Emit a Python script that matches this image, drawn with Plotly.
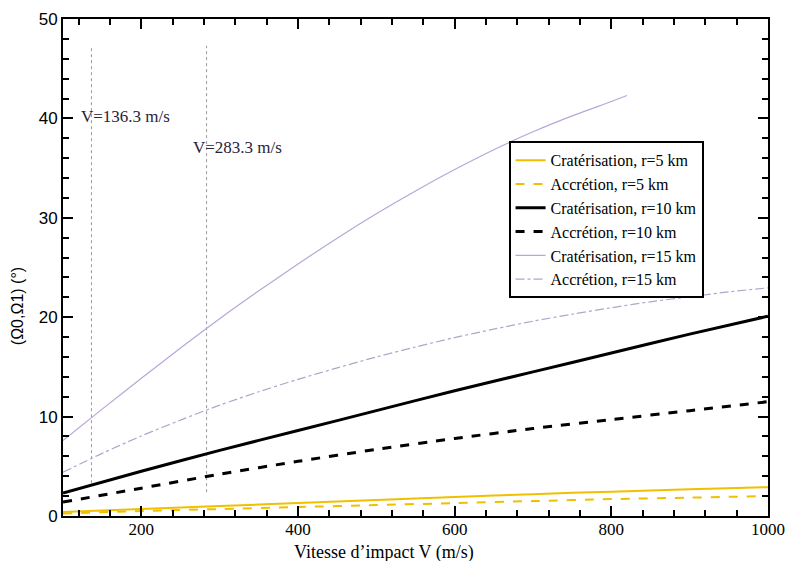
import plotly.graph_objects as go

# ---- data ----
x_full = [100, 200, 300, 400, 500, 600, 700, 800, 900, 1000]
crat_r5 = [0.4, 0.7, 1.0, 1.3, 1.6, 1.9, 2.2, 2.45, 2.7, 2.9]
acc_r5 = [0.25, 0.5, 0.7, 0.9, 1.1, 1.3, 1.5, 1.7, 1.85, 2.0]
crat_r10 = [2.3, 4.5, 6.6, 8.6, 10.6, 12.6, 14.5, 16.4, 18.3, 20.1]
acc_r10 = [1.4, 2.8, 4.2, 5.5, 6.7, 7.8, 8.8, 9.7, 10.6, 11.5]

x_r15c = [100, 150, 200, 250, 300, 350, 400, 450, 500, 550, 600, 650, 700, 750, 800, 820]
crat_r15 = [7.6, 10.75, 13.85, 16.9, 19.85, 22.65, 25.35, 27.95, 30.4, 32.7, 34.85, 36.85, 38.65, 40.25, 41.7, 42.3]

x_r15a = [100, 150, 200, 250, 300, 350, 400, 450, 500, 550, 600, 650, 700, 750, 800, 850, 900, 950, 1000]
acc_r15 = [4.4, 6.3, 8.05, 9.65, 11.15, 12.5, 13.75, 14.9, 16.0, 17.0, 17.95, 18.8, 19.6, 20.3, 20.95, 21.55, 22.05, 22.55, 22.95]

v_markers = [136.3, 283.3]
v_labels = ["V=136.3 m/s", "V=283.3 m/s"]
v_label_pos = [(121, 40.2), (264, 37.1)]
v_line_span = [(3.3, 47.2), (2.4, 47.3)]

x_ticks = [200, 400, 600, 800, 1000]
y_ticks = [0, 10, 20, 30, 40, 50]

x_title = "Vitesse d\u2019impact V (m/s)"
y_title = "(\u03a90,\u03a91) (\u00b0)"

YELLOW = "#f0c000"
LAV = "#b8a6da"
LAV2 = "#b0a6c8"

fig = go.Figure()

# vertical marker lines
for v, (y0, y1) in zip(v_markers, v_line_span):
    fig.add_trace(go.Scatter(x=[v, v], y=[y0, y1], mode="lines",
                             line=dict(color="#9a9a9a", width=1, dash="dot"),
                             showlegend=False, hoverinfo="skip"))

fig.add_trace(go.Scatter(x=x_full, y=crat_r5, mode="lines", name="Cratérisation, r=5 km",
                         line=dict(color=YELLOW, width=2, shape="spline", smoothing=0.8)))
fig.add_trace(go.Scatter(x=x_full, y=acc_r5, mode="lines", name="Accrétion, r=5 km",
                         line=dict(color=YELLOW, width=2, dash="dash", shape="spline", smoothing=0.8)))
fig.add_trace(go.Scatter(x=x_full, y=crat_r10, mode="lines", name="Cratérisation, r=10 km",
                         line=dict(color="black", width=3, shape="spline", smoothing=0.8)))
fig.add_trace(go.Scatter(x=x_full, y=acc_r10, mode="lines", name="Accrétion, r=10 km",
                         line=dict(color="black", width=3, dash="dash", shape="spline", smoothing=0.8)))
fig.add_trace(go.Scatter(x=x_r15c, y=crat_r15, mode="lines", name="Cratérisation, r=15 km",
                         line=dict(color=LAV, width=1.2, shape="spline", smoothing=0.8)))
fig.add_trace(go.Scatter(x=x_r15a, y=acc_r15, mode="lines", name="Accrétion, r=15 km",
                         line=dict(color=LAV2, width=1.2, dash="dashdot", shape="spline", smoothing=0.8)))

for txt, (lx, ly) in zip(v_labels, v_label_pos):
    fig.add_annotation(x=lx, y=ly, text=txt, showarrow=False, xanchor="left", yanchor="middle",
                       font=dict(family="Liberation Serif", size=17, color="#2a2238"))

# axis titles as annotations (positioned like the reference)
fig.add_annotation(x=0.455, y=-0.073, xref="paper", yref="paper", text=x_title, showarrow=False,
                   xanchor="center", yanchor="middle",
                   font=dict(family="Liberation Serif", size=18, color="black"))
fig.add_annotation(x=-0.065, y=0.4225, xref="paper", yref="paper", text=y_title, showarrow=False,
                   textangle=-90, xanchor="center", yanchor="middle",
                   font=dict(family="Liberation Sans", size=16, color="black"))

fig.update_xaxes(range=[100, 1000], tickvals=x_ticks, ticks="inside", ticklen=10, tickwidth=2,
                 tickcolor="black", showline=True, linecolor="black", linewidth=2, mirror="ticks",
                 showgrid=False, zeroline=False, automargin=False, ticklabelstandoff=-3,
                 minor=dict(dtick=40, tick0=200, ticks="inside", ticklen=6, tickwidth=1.5, tickcolor="black"),
                 tickfont=dict(family="Liberation Serif", size=17, color="black"))
fig.update_yaxes(range=[0, 50], tickvals=y_ticks, ticks="inside", ticklen=10, tickwidth=2,
                 tickcolor="black", showline=True, linecolor="black", linewidth=2, mirror="ticks",
                 showgrid=False, zeroline=False, automargin=False,
                 minor=dict(dtick=2, ticks="inside", ticklen=6, tickwidth=1.5, tickcolor="black"),
                 tickfont=dict(family="Liberation Sans", size=17, color="black"))

fig.update_layout(
    width=792, height=561,
    margin=dict(l=63, r=24, t=19, b=45, autoexpand=False),
    paper_bgcolor="white", plot_bgcolor="white",
    legend=dict(x=0.632, y=0.754, xanchor="left", yanchor="top",
                bgcolor="white", bordercolor="black", borderwidth=2,
                font=dict(family="Liberation Serif", size=16, color="black"),
                tracegroupgap=0, itemwidth=30),
)

fig.write_html("out.html", config={"displayModeBar": False},
               post_script="document.body.style.margin='0';document.body.style.padding='0';")
